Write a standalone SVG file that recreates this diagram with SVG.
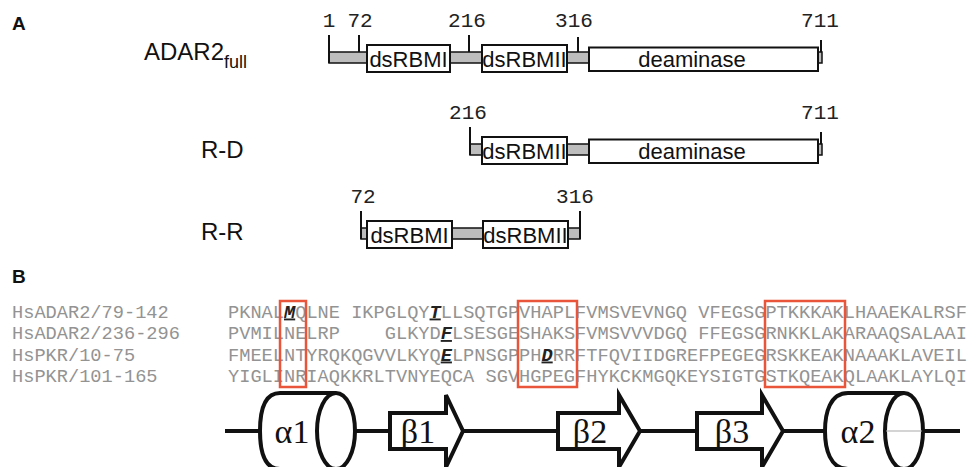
<svg xmlns="http://www.w3.org/2000/svg" width="969" height="467" viewBox="0 0 969 467">
<style>
.panel{font-family:"Liberation Sans",Arial,sans-serif;font-weight:bold;font-size:19px;fill:#111}
.name{font-family:"Liberation Sans",Arial,sans-serif;font-size:24px;fill:#111}
.num{font-family:"Liberation Mono","Courier New",monospace;font-size:21px;fill:#222;text-anchor:middle}
.dom{font-family:"Liberation Sans",Arial,sans-serif;font-size:22px;fill:#111;text-anchor:middle}
.box{fill:#fff;stroke:#111;stroke-width:2}
.bar{fill:#bdbdbd;stroke:#111;stroke-width:1.5}
.tick{stroke:#111;stroke-width:2}
.seq{font-family:"Liberation Mono","Courier New",monospace;font-size:18.67px;fill:#939393;white-space:pre}
.hl{font-weight:bold;font-style:italic;text-decoration:underline;fill:#222}
.red{fill:none;stroke:#E8553A;stroke-width:2.5}
.ss{fill:#fff;stroke:#111;stroke-width:4;stroke-linejoin:miter}
.sst{font-family:"Liberation Serif","Times New Roman",serif;font-size:34px;fill:#111;text-anchor:middle}
</style>

<text class="panel" x="12" y="30">A</text>
<text class="panel" x="12" y="283">B</text>

<!-- ADAR2 full -->
<g id="row-full">
<text class="name" x="144" y="60" font-size="25.5">ADAR2<tspan font-size="18" dy="8">full</tspan></text>
<text class="num" x="329" y="27">1</text>
<text class="num" x="360" y="27">72</text>
<text class="num" x="467" y="27">216</text>
<text class="num" x="574" y="27">316</text>
<text class="num" x="820" y="27">711</text>
<rect class="bar" x="329" y="52" width="493" height="11"/>
<line class="tick" x1="329" y1="35" x2="329" y2="63"/>
<line class="tick" x1="359" y1="35" x2="359" y2="52"/>
<line class="tick" x1="469" y1="35" x2="469" y2="52"/>
<line class="tick" x1="578" y1="37" x2="578" y2="52"/>
<line class="tick" x1="821" y1="40" x2="821" y2="52"/>
<g id="full-dsRBMI"><rect class="box" x="367" y="45" width="83" height="27"/><text class="dom" x="408.5" y="67">dsRBMI</text></g>
<g id="full-dsRBMII"><rect class="box" x="482" y="45" width="85" height="27"/><text class="dom" x="524.5" y="67">dsRBMII</text></g>
<g id="full-deaminase"><rect class="box" x="589" y="47.5" width="229" height="23.5"/><text class="dom" x="692" y="67">deaminase</text></g>
</g>

<!-- R-D -->
<g id="row-RD">
<text class="name" x="201" y="158">R-D</text>
<text class="num" x="468" y="119">216</text>
<text class="num" x="820" y="119">711</text>
<rect class="bar" x="470" y="144" width="352" height="11"/>
<line class="tick" x1="470" y1="127" x2="470" y2="155"/>
<line class="tick" x1="821" y1="132" x2="821" y2="144"/>
<g id="rd-dsRBMII"><rect class="box" x="482" y="137" width="85" height="27"/><text class="dom" x="524.5" y="159">dsRBMII</text></g>
<g id="rd-deaminase"><rect class="box" x="589" y="139.5" width="229" height="23.5"/><text class="dom" x="692" y="159">deaminase</text></g>
</g>

<!-- R-R -->
<g id="row-RR">
<text class="name" x="201" y="240">R-R</text>
<text class="num" x="363" y="203">72</text>
<text class="num" x="575" y="203">316</text>
<rect class="bar" x="361" y="228" width="219" height="11"/>
<line class="tick" x1="361" y1="211" x2="361" y2="239"/>
<line class="tick" x1="580" y1="211" x2="580" y2="239"/>
<g id="rr-dsRBMI"><rect class="box" x="367" y="221" width="85" height="27"/><text class="dom" x="409.5" y="243">dsRBMI</text></g>
<g id="rr-dsRBMII"><rect class="box" x="483" y="221" width="85" height="27"/><text class="dom" x="525.5" y="243">dsRBMII</text></g>
</g>

<!-- Sequence alignment -->
<g id="alignment">
<text class="seq" x="12" y="317.5">HsADAR2/79-142</text>
<text class="seq" x="12" y="339">HsADAR2/236-296</text>
<text class="seq" x="12" y="360.5">HsPKR/10-75</text>
<text class="seq" x="12" y="382">HsPKR/101-165</text>
<text class="seq" x="228" y="317.5">PKNAL<tspan class="hl">M</tspan>QLNE IKPGLQY<tspan class="hl">T</tspan>LLSQTGPVHAPLFVMSVEVNGQ VFEGSGPTKKKAKLHAAEKALRSF</text>
<text class="seq" x="228" y="339">PVMILNELRP    GLKYD<tspan class="hl">F</tspan>LSESGESHAKSFVMSVVVDGQ FFEGSGRNKKLAKARAAQSALAAI</text>
<text class="seq" x="228" y="360.5">FMEELNTYRQKQGVVLKYQ<tspan class="hl">E</tspan>LPNSGPPH<tspan class="hl">D</tspan>RRFTFQVIIDGREFPEGEGRSKKEAKNAAAKLAVEIL</text>
<text class="seq" x="228" y="382">YIGLINRIAQKKRLTVNYEQCA SGVHGPEGFHYKCKMGQKEYSIGTGSTKQEAKQLAAKLAYLQI</text>
<rect class="red" x="280" y="301" width="26" height="86"/>
<rect class="red" x="518" y="301" width="59" height="86"/>
<rect class="red" x="765" y="301" width="80" height="86"/>
</g>

<!-- Secondary structure -->
<g id="connectors">
<line x1="225" y1="431" x2="960" y2="431" stroke="#111" stroke-width="4"/>
</g>
<g id="alpha1">
<path class="ss" d="M336,393 H280 C263,393 260,413 260,431 C260,449 263,469 280,469 H336"/>
<ellipse class="ss" cx="336" cy="431" rx="19" ry="38"/>
<text class="sst" x="292" y="443">α1</text>
</g>
<g id="beta1">
<path class="ss" d="M390,413 H446 V395 L463,431 L446,467 V449 H390 Z"/>
<text class="sst" x="418" y="443">β1</text>
</g>
<g id="beta2">
<path class="ss" d="M558,413 H619 V395 L640,431 L619,467 V449 H558 Z"/>
<text class="sst" x="590" y="443">β2</text>
</g>
<g id="beta3">
<path class="ss" d="M697,413 H762 V395 L783,431 L762,467 V449 H697 Z"/>
<text class="sst" x="732" y="443">β3</text>
</g>
<g id="alpha2">
<path class="ss" d="M904,393 H848 C830,393 825,413 825,431 C825,449 830,469 848,469 H904"/>
<ellipse class="ss" cx="904" cy="431" rx="19" ry="38"/>
<line x1="886" y1="431" x2="922" y2="431" stroke="#aaa" stroke-width="1.2"/>
<text class="sst" x="858" y="443">α2</text>
</g>
</svg>
